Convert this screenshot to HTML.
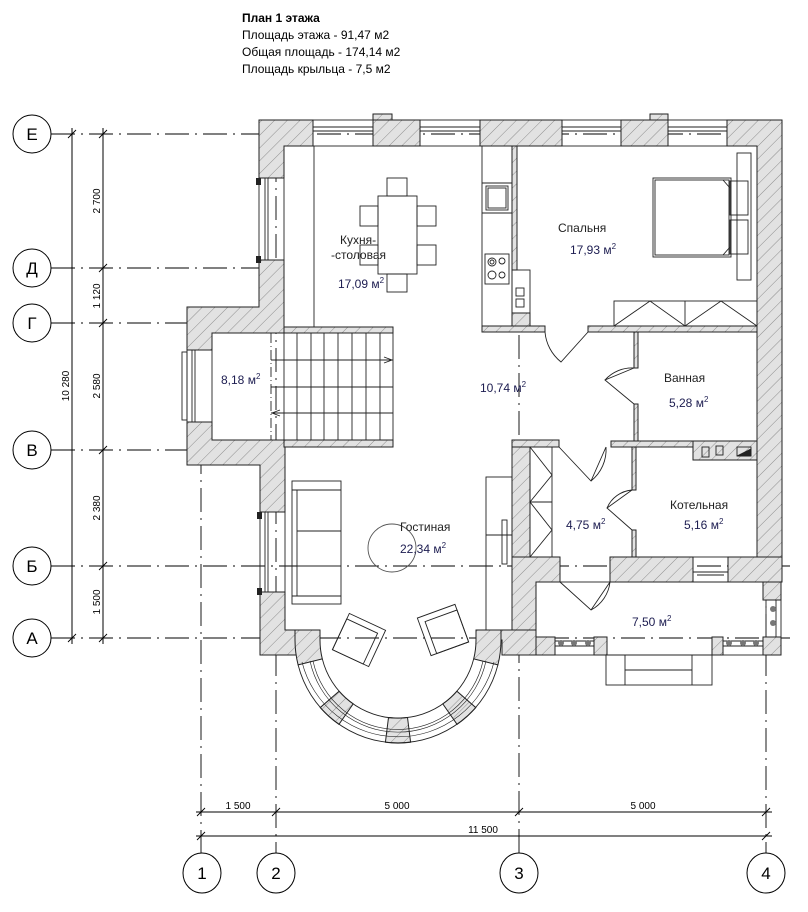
<!DOCTYPE html>
<html><head><meta charset="utf-8"><style>
html,body{margin:0;padding:0;background:#fff;}
svg{display:block;}
text{font-family:"Liberation Sans","DejaVu Sans",sans-serif;}
</style></head><body>
<svg width="808" height="912" viewBox="0 0 808 912" xmlns="http://www.w3.org/2000/svg">
<defs>
<pattern id="h" patternUnits="userSpaceOnUse" width="9" height="9" patternTransform="rotate(45)">
<rect width="9" height="9" fill="#e2e2e2"/><line x1="0" y1="0" x2="0" y2="9" stroke="#777" stroke-width="0.8"/>
</pattern>
</defs>
<rect width="808" height="912" fill="#fff"/>

<text x="242" y="22" font-size="12" font-weight="bold">План 1 этажа</text>
<text x="242" y="39" font-size="12">Площадь этажа - 91,47 м2</text>
<text x="242" y="56" font-size="12">Общая площадь - 174,14 м2</text>
<text x="242" y="73" font-size="12">Площадь крыльца - 7,5 м2</text>

<g fill="none" stroke="#000" stroke-width="1">
<g stroke-dasharray="24 6 2 6" stroke-width="0.9">
<line x1="51" y1="134" x2="782" y2="134"/>
<line x1="51" y1="268" x2="262" y2="268"/>
<line x1="51" y1="323" x2="187" y2="323"/>
<line x1="51" y1="450" x2="262" y2="450"/>
<line x1="51" y1="566" x2="790" y2="566"/>
<line x1="51" y1="638" x2="790" y2="638"/>
<line x1="201" y1="450" x2="201" y2="853"/>
<line x1="276" y1="120" x2="276" y2="853"/>
<line x1="519" y1="335" x2="519" y2="853"/>
<line x1="766" y1="120" x2="766" y2="853"/>
</g>
<line x1="72" y1="128" x2="72" y2="644"/>
<line x1="103" y1="128" x2="103" y2="644"/>
<g stroke-width="0.9">
<line x1="68" y1="138" x2="76" y2="130"/><line x1="68" y1="642" x2="76" y2="634"/>
<line x1="99" y1="138" x2="107" y2="130"/><line x1="99" y1="272" x2="107" y2="264"/>
<line x1="99" y1="327" x2="107" y2="319"/><line x1="99" y1="454" x2="107" y2="446"/>
<line x1="99" y1="570" x2="107" y2="562"/><line x1="99" y1="642" x2="107" y2="634"/>
<line x1="196" y1="812" x2="772" y2="812"/>
<line x1="196" y1="836" x2="772" y2="836"/>
<line x1="197" y1="816" x2="205" y2="808"/><line x1="272" y1="816" x2="280" y2="808"/>
<line x1="515" y1="816" x2="523" y2="808"/><line x1="762" y1="816" x2="770" y2="808"/>
<line x1="197" y1="840" x2="205" y2="832"/><line x1="762" y1="840" x2="770" y2="832"/>
</g>
<circle cx="32" cy="134" r="19"/><circle cx="32" cy="268" r="19"/><circle cx="32" cy="323" r="19"/>
<circle cx="32" cy="450" r="19"/><circle cx="32" cy="566" r="19"/><circle cx="32" cy="638" r="19"/>
<ellipse cx="202" cy="873" rx="19" ry="20"/><ellipse cx="276" cy="873" rx="19" ry="20"/>
<ellipse cx="519" cy="873" rx="19" ry="20"/><ellipse cx="766" cy="873" rx="19" ry="20"/>
</g>
<g font-size="17" text-anchor="middle">
<text x="32" y="140">Е</text><text x="32" y="274">Д</text><text x="32" y="329">Г</text>
<text x="32" y="456">В</text><text x="32" y="572">Б</text><text x="32" y="644">А</text>
<text x="202" y="879">1</text><text x="276" y="879">2</text><text x="519" y="879">3</text><text x="766" y="879">4</text>
</g>
<g font-size="10" text-anchor="middle">
<text transform="translate(69,386) rotate(-90)">10 280</text>
<text transform="translate(100,201) rotate(-90)">2 700</text>
<text transform="translate(100,296) rotate(-90)">1 120</text>
<text transform="translate(100,386) rotate(-90)">2 580</text>
<text transform="translate(100,508) rotate(-90)">2 380</text>
<text transform="translate(100,602) rotate(-90)">1 500</text>
<text x="238" y="809">1 500</text><text x="397" y="809">5 000</text><text x="643" y="809">5 000</text>
<text x="483" y="833">11 500</text>
</g>

<g fill="url(#h)" stroke="#222" stroke-width="1">
<path d="M259,120 H313 V146 H284 V178 H259 Z"/>
<rect x="373" y="114" width="19" height="6"/>
<rect x="373" y="120" width="47" height="26"/>
<path d="M480,120 H562 V146 H480 Z"/>
<rect x="650" y="114" width="18" height="6"/>
<rect x="621" y="120" width="47" height="26"/>
<path d="M727,120 H782 V582 H757 V146 H727 Z"/>
<path d="M259,260 H284 V333 H212 V350 H187 V307 H259 Z"/>
<path d="M187,422 H212 V440 H285 V512 H260 V465 H187 Z"/>
<path d="M260,592 H285 V630 H320 V655 H260 Z"/>
<rect x="284" y="327" width="109" height="6"/>
<rect x="284" y="440" width="109" height="7"/>
<rect x="482" y="326" width="63" height="6"/>
<rect x="588" y="326" width="169" height="6"/>
<rect x="512" y="313" width="18" height="13"/>
<rect x="512" y="146" width="5" height="124"/>
<rect x="634" y="332" width="4" height="36"/>
<rect x="634" y="404" width="4" height="37"/>
<rect x="611" y="441" width="146" height="6"/>
<rect x="693" y="441" width="64" height="19"/>
<rect x="512" y="440" width="47" height="7"/>
<rect x="512" y="447" width="18" height="110"/>
<rect x="632" y="447" width="4" height="43"/>
<rect x="632" y="530" width="4" height="27"/>
<path d="M512,557 H560 V582 H536 V655 H512 Z"/>
<rect x="610" y="557" width="83" height="25"/>
<rect x="728" y="557" width="54" height="25"/>
<path d="M477,630 H536 V655 H502 V640 H477 Z"/>
<rect x="536" y="637" width="19" height="18"/>
<rect x="594" y="637" width="13" height="18"/>
<rect x="712" y="637" width="11" height="18"/>
<rect x="763" y="637" width="18" height="18"/>
<rect x="763" y="582" width="18" height="18"/>
<path d="M295,630 H320 V640 A78,78 0 0 0 322.3,658.9 L298.1,664.9 A103,103 0 0 1 295,640 Z"/>
<path d="M476,630 H501 V640 A103,103 0 0 1 497.9,664.9 L473.7,658.9 A78,78 0 0 0 476,640 Z"/>
<path d="M456.9,691.2 A78,78 0 0 1 442.8,703.9 L457.1,724.4 A103,103 0 0 0 475.8,707.6 Z"/>
<path d="M407.5,717.5 A78,78 0 0 1 388.5,717.5 L385.4,742.3 A103,103 0 0 0 410.6,742.3 Z"/>
<path d="M353.2,703.9 A78,78 0 0 1 339.1,691.2 L320.2,707.6 A103,103 0 0 0 338.9,724.4 Z"/>
</g>

<g fill="none" stroke="#222" stroke-width="0.9">
<path d="M322.3,658.9 A78,78 0 0 0 473.7,658.9"/>
<path d="M298.1,664.9 A103,103 0 0 0 497.9,664.9"/>
<path d="M302,662 A99,99 0 0 0 494,662" stroke-width="0.6"/>
<path d="M310,661 A90,90 0 0 0 486,661" stroke-width="0.6"/>
<path d="M313,661 A87,87 0 0 0 483,661" stroke-width="0.6"/>
<rect x="313" y="120" width="60" height="26"/><line x1="313" y1="127" x2="373" y2="127"/><line x1="313" y1="131" x2="373" y2="131"/>
<rect x="420" y="120" width="60" height="26"/><line x1="420" y1="127" x2="480" y2="127"/><line x1="420" y1="131" x2="480" y2="131"/>
<rect x="562" y="120" width="59" height="26"/><line x1="562" y1="127" x2="621" y2="127"/><line x1="562" y1="131" x2="621" y2="131"/>
<rect x="668" y="120" width="59" height="26"/><line x1="668" y1="127" x2="727" y2="127"/><line x1="668" y1="131" x2="727" y2="131"/>
<rect x="259" y="178" width="25" height="82"/><line x1="265" y1="178" x2="265" y2="260"/><line x1="268" y1="178" x2="268" y2="260"/>
<rect x="260" y="512" width="25" height="80"/><line x1="265" y1="512" x2="265" y2="592"/><line x1="268" y1="512" x2="268" y2="592"/>
<rect x="187" y="350" width="25" height="72"/><line x1="192" y1="350" x2="192" y2="422"/><line x1="195" y1="350" x2="195" y2="422"/>
<rect x="182" y="352" width="5" height="68"/>
<rect x="693" y="557" width="35" height="25"/><line x1="693" y1="572" x2="728" y2="572"/><line x1="697" y1="575" x2="724" y2="575"/>
<line x1="314" y1="146" x2="314" y2="327"/>
<rect x="482" y="146" width="30" height="180"/>
<line x1="482" y1="183" x2="512" y2="183"/><line x1="482" y1="213" x2="512" y2="213"/>
<rect x="486" y="186" width="22" height="24"/><rect x="488" y="188" width="18" height="20"/>
<rect x="485" y="254" width="24" height="30"/>
<circle cx="492" cy="262" r="4"/><circle cx="492" cy="262" r="2"/><circle cx="502" cy="261" r="3"/>
<circle cx="492" cy="275" r="4"/><circle cx="502" cy="275" r="3"/>
<rect x="378" y="196" width="39" height="78"/>
<rect x="387" y="178" width="20" height="18"/><rect x="387" y="274" width="20" height="18"/>
<rect x="360" y="206" width="18" height="20"/><rect x="360" y="245" width="18" height="20"/>
<rect x="417" y="206" width="19" height="20"/><rect x="417" y="245" width="19" height="20"/>
<rect x="512" y="270" width="18" height="43"/><rect x="516" y="288" width="8" height="8"/><rect x="516" y="299" width="8" height="8"/>
<line x1="271" y1="333" x2="271" y2="440" stroke-dasharray="10 3 1 3"/>
<line x1="284" y1="333" x2="284" y2="440"/>
<line x1="393" y1="333" x2="393" y2="440"/>
<line x1="297" y1="333" x2="297" y2="440"/><line x1="311" y1="333" x2="311" y2="440"/>
<line x1="324" y1="333" x2="324" y2="440"/><line x1="338" y1="333" x2="338" y2="440"/>
<line x1="352" y1="333" x2="352" y2="440"/><line x1="366" y1="333" x2="366" y2="440"/>
<line x1="380" y1="333" x2="380" y2="440"/>
<line x1="271" y1="360" x2="393" y2="360"/><line x1="271" y1="387" x2="393" y2="387"/><line x1="271" y1="413" x2="393" y2="413"/>
<path d="M384,357 L392,360 L384,363"/><path d="M280,410 L272,413 L280,416"/>
<rect x="653" y="178" width="78" height="79"/><rect x="655" y="180" width="74" height="75"/>
<rect x="730" y="181" width="18" height="34"/><rect x="730" y="220" width="18" height="34"/>
<rect x="737" y="153" width="14" height="127"/>
<path d="M723,180 L730,188 M723,255 L730,247"/>
<rect x="614" y="301" width="143" height="25"/><line x1="685" y1="301" x2="685" y2="326"/>
<path d="M614,326 L650,301 L685,326 L721,301 L757,326"/>
<path d="M545,332 A43,43 0 0 0 561,362 L588,332"/>
<path d="M634,368 L605,380 L634,404 M605,380 A36,36 0 0 1 634,368"/>
<path d="M559,447 L591,481 L606,447 M606,447 A40,40 0 0 1 591,481"/>
<path d="M632,490 L607,508 L632,530 M607,508 A30,30 0 0 1 632,490"/>
<path d="M560,582 L591,610 L610,582 M610,582 A36,36 0 0 1 591,610"/>
<rect x="530" y="447" width="22" height="110"/><line x1="530" y1="502" x2="552" y2="502"/>
<path d="M530,447 L552,475 L530,502 L552,530 L530,557"/>
<rect x="702" y="447" width="7" height="10"/><rect x="716" y="446" width="7" height="9"/>
<rect x="737" y="447" width="14" height="9"/><path d="M737,456 L751,449 V456 Z" fill="#222"/>
<rect x="292" y="481" width="49" height="123"/><line x1="297" y1="490" x2="297" y2="596"/>
<line x1="292" y1="490" x2="341" y2="490"/><line x1="292" y1="596" x2="341" y2="596"/>
<line x1="297" y1="531" x2="341" y2="531"/><line x1="297" y1="566" x2="341" y2="566"/>
<circle cx="392" cy="548" r="24" stroke="#555"/>
<rect x="486" y="477" width="26" height="153"/><line x1="486" y1="535" x2="512" y2="535"/>
<rect x="502" y="520" width="5" height="44"/>
<g transform="translate(359,640) rotate(25)"><rect x="-20" y="-20" width="40" height="40"/><rect x="-20" y="-14" width="34" height="34"/></g>
<g transform="translate(443,630) rotate(-20)"><rect x="-20" y="-20" width="40" height="40"/><rect x="-14" y="-14" width="34" height="34"/></g>
<rect x="536" y="582" width="245" height="73"/>
<rect x="766" y="600" width="10" height="37"/>
<rect x="606" y="655" width="106" height="30"/><line x1="625" y1="655" x2="625" y2="685"/><line x1="692" y1="655" x2="692" y2="685"/><line x1="625" y1="670" x2="692" y2="670"/>
<line x1="555" y1="641" x2="594" y2="641"/><line x1="555" y1="646" x2="594" y2="646"/>
<line x1="723" y1="641" x2="763" y2="641"/><line x1="723" y1="646" x2="763" y2="646"/>
</g>
<g fill="#777">
<circle cx="561" cy="643" r="3"/><circle cx="574" cy="643" r="3"/><circle cx="588" cy="643" r="3"/>
<circle cx="729" cy="643" r="3"/><circle cx="743" cy="643" r="3"/><circle cx="756" cy="643" r="3"/>
<circle cx="773" cy="609" r="3"/><circle cx="773" cy="623" r="3"/>
</g>
<g fill="#222"><rect x="256" y="178" width="5" height="7"/><rect x="256" y="256" width="5" height="7"/>
<rect x="257" y="512" width="5" height="7"/><rect x="257" y="588" width="5" height="7"/></g>

<g font-size="12" fill="#222">
<text x="340" y="244">Кухня-</text><text x="331" y="259">-столовая</text>
<text x="558" y="232">Спальня</text>
<text x="664" y="382">Ванная</text>
<text x="400" y="531">Гостиная</text>
<text x="670" y="509">Котельная</text>
</g>
<g font-size="12" fill="#1c1c50">
<text x="338" y="288">17,09 м<tspan dy="-5" font-size="8">2</tspan></text>
<text x="570" y="254">17,93 м<tspan dy="-5" font-size="8">2</tspan></text>
<text x="221" y="384">8,18 м<tspan dy="-5" font-size="8">2</tspan></text>
<text x="480" y="392">10,74 м<tspan dy="-5" font-size="8">2</tspan></text>
<text x="669" y="407">5,28 м<tspan dy="-5" font-size="8">2</tspan></text>
<text x="400" y="553">22,34 м<tspan dy="-5" font-size="8">2</tspan></text>
<text x="566" y="529">4,75 м<tspan dy="-5" font-size="8">2</tspan></text>
<text x="684" y="529">5,16 м<tspan dy="-5" font-size="8">2</tspan></text>
<text x="632" y="626">7,50 м<tspan dy="-5" font-size="8">2</tspan></text>
</g>
</svg>
</body></html>
